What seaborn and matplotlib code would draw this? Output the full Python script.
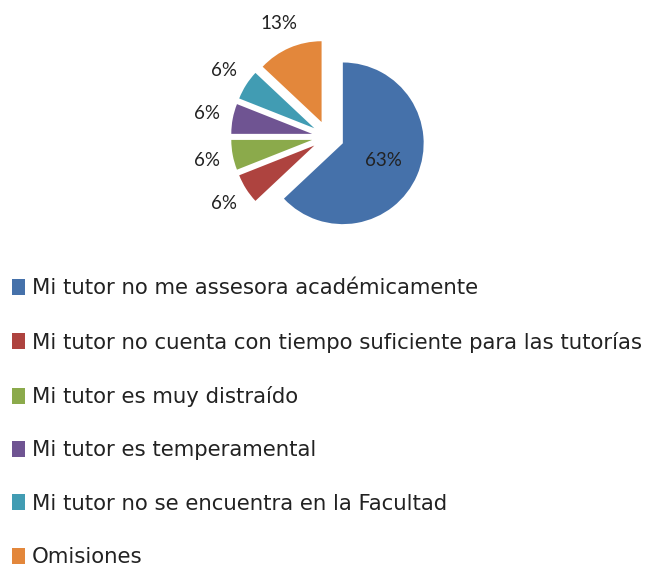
import matplotlib
matplotlib.use("Agg")
import matplotlib.pyplot as plt
import seaborn as sns
import numpy as np

sns.set_theme(style="white")
plt.rcParams["font.family"] = ["Lato", "DejaVu Sans"]

# Data
categories = [
    "Mi tutor no me assesora académicamente",
    "Mi tutor no cuenta con tiempo suficiente para las tutorías",
    "Mi tutor es muy distraído",
    "Mi tutor es temperamental",
    "Mi tutor no se encuentra en la Facultad",
    "Omisiones",
]
percentages = [63, 6, 6, 6, 6, 13]
colors = ["#4571AA", "#AE433F", "#8BAA4B", "#6F5492", "#419CB3", "#E3873B"]

fig = plt.figure(figsize=(6.56, 5.68), dpi=100)
ax = fig.add_axes([0.346, 0.581, 0.308, 0.356])

wedges, _ = ax.pie(percentages, colors=colors, startangle=90, counterclock=False,
                   explode=[0.2] * len(percentages),
                   wedgeprops={"linewidth": 0})

# percentage labels: inside the big slice, outside the small ones
for w, v in zip(wedges, percentages):
    theta = np.deg2rad((w.theta1 + w.theta2) / 2)
    cx, cy = w.center
    dist = 0.55 if v > 50 else 1.33
    ax.text(cx + dist * w.r * np.cos(theta), cy + dist * w.r * np.sin(theta),
            f"{v}%", ha="center", va="center", fontsize=13.5, color="#222222")

leg = fig.legend(wedges, categories, loc="upper left", bbox_to_anchor=(0.005, 0.525),
                 frameon=False, prop={"family": "DejaVu Sans", "size": 15.3},
                 handlelength=0.6, handleheight=0.8,
                 handletextpad=0.35, labelspacing=1.57, borderaxespad=0)
for t in leg.get_texts():
    t.set_color("#222222")

fig.savefig("out.png", dpi=100)
